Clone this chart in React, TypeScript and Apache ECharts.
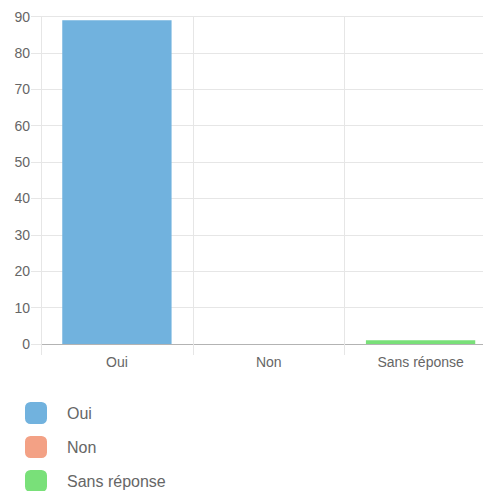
import React, { useEffect, useRef } from "react";
import * as echarts from "echarts";

const categories = ["Oui", "Non", "Sans réponse"];
const values = [89, 0, 1];
const colors = ["#71b2de", "#f3a185", "#79e079"];
const yTicks = { min: 0, max: 90, interval: 10 };

export default function App() {
  const ref = useRef<HTMLDivElement>(null);
  useEffect(() => {
    if (!ref.current) return;
    const chart = echarts.init(ref.current, null, { renderer: "svg" });
    const font = "'Liberation Sans', Arial, Helvetica, sans-serif";
    chart.setOption({
      animation: false,
      textStyle: { fontFamily: font },
      grid: { left: 41, top: 16.5, right: 0.5, bottom: 147, containLabel: false },
      legend: {
        orient: "vertical",
        left: 25,
        top: 402,
        height: 200,
        padding: 0,
        itemWidth: 22,
        itemHeight: 22,
        itemGap: 12,
        icon: "roundRect",
        data: categories,
        textStyle: { fontSize: 16, color: "#666", fontFamily: font, padding: [0, 0, 0, 15] },
      },
      xAxis: {
        type: "category",
        data: categories,
        axisLine: { show: true, lineStyle: { color: "#b3b3b3", width: 1 } },
        axisTick: { show: true, length: 11, lineStyle: { color: "#e6e6e6" } },
        splitLine: { show: true, lineStyle: { color: "#e6e6e6" } },
        axisLabel: { color: "#666", fontSize: 14, margin: 11, fontFamily: font },
      },
      yAxis: {
        type: "value",
        min: yTicks.min,
        max: yTicks.max,
        interval: yTicks.interval,
        axisLine: { show: true, lineStyle: { color: "#e6e6e6" } },
        axisTick: { show: true, length: 10, lineStyle: { color: "#e6e6e6" } },
        splitLine: { show: true, lineStyle: { color: "#e6e6e6" } },
        axisLabel: { color: "#666", fontSize: 14, margin: 11, fontFamily: font },
      },
      series: categories.map((name, i) => ({
        name,
        type: "bar",
        stack: "total",
        barCategoryGap: "28%",
        itemStyle: { color: colors[i] },
        data: categories.map((_, j) => (j === i ? values[i] : null)),
      })),
    });
    return () => chart.dispose();
  }, []);
  return (
    <div style={{ position: "fixed", left: 0, top: 0, width: 483, height: 491, overflow: "hidden", background: "#fff" }}>
      <div ref={ref} style={{ width: 497, height: 491 }} />
    </div>
  );
}
